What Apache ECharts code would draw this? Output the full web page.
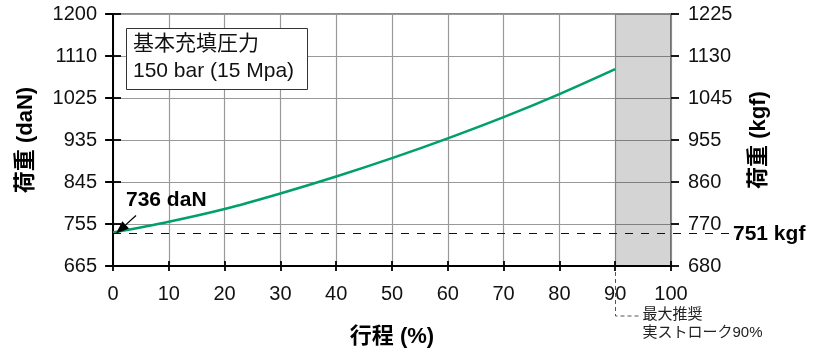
<!DOCTYPE html>
<html>
<head>
<meta charset="utf-8">
<script src="https://cdn.jsdelivr.net/npm/echarts@6/dist/echarts.min.js"></script>
<style>
  html, body { margin: 0; padding: 0; background: #fff; }
  #chart { width: 823px; height: 353px; }
</style>
</head>
<body>
<div id="chart"></div>
<script>
// Stroke (%) vs. thrust force (daN)
const STROKE = [0, 10, 20, 30, 40, 50, 60, 70, 80, 90];
const FORCE_DAN = [736, 759, 786, 819, 855, 894, 936, 981, 1030, 1083];

// Axis ranges and tick labels
const X_RANGE = [0, 100];
const LEFT_RANGE = [665, 1200];
const RIGHT_RANGE = [680, 1225];
const LEFT_TICK_LABELS = ['665', '755', '845', '935', '1025', '1110', '1200'];
const RIGHT_TICK_LABELS = ['680', '770', '860', '955', '1045', '1130', '1225'];

// Reference values
const INITIAL_KGF = 751;
const LIMIT_STROKE = 90;

const FONT = "'Liberation Sans', 'Noto Sans CJK JP', sans-serif";

// Evenly spaced tick positions across each axis range
function evenTicks(range, n) {
  const step = (range[1] - range[0]) / (n - 1);
  return Array.from({ length: n }, (_, i) => range[0] + i * step);
}
const LEFT_TICKS = evenTicks(LEFT_RANGE, LEFT_TICK_LABELS.length);
const RIGHT_TICKS = evenTicks(RIGHT_RANGE, RIGHT_TICK_LABELS.length);

function labelFor(range, labels) {
  const step = (range[1] - range[0]) / (labels.length - 1);
  return v => labels[Math.round((v - range[0]) / step)] || '';
}

const chart = echarts.init(document.getElementById('chart'), null, { renderer: 'canvas' });

function tick(inside, length, values) {
  const t = { show: true, inside: inside, length: length, lineStyle: { color: '#000', width: 1.8 } };
  if (values) t.customValues = values;
  return t;
}

const option = {
  animation: false,
  textStyle: { fontFamily: FONT },
  grid: {
    left: 113, right: 152, top: 14, bottom: 86,
    show: true, borderColor: '#8a8a8a', borderWidth: 2, backgroundColor: 'transparent'
  },
  xAxis: [
    {
      type: 'value', min: X_RANGE[0], max: X_RANGE[1], interval: 10,
      position: 'bottom',
      axisLine: { show: true, onZero: false, lineStyle: { color: '#000', width: 2 } },
      axisTick: tick(false, 5),
      axisLabel: { fontSize: 20, color: '#111', margin: 18, fontFamily: FONT },
      splitLine: { show: true, lineStyle: { color: '#999', width: 1.2 } },
      name: '行程 (%)', nameLocation: 'middle', nameGap: 60,
      nameTextStyle: { fontSize: 22, fontWeight: 'bold', color: '#000', fontFamily: FONT }
    },
    {
      type: 'value', min: X_RANGE[0], max: X_RANGE[1], interval: 10,
      position: 'bottom',
      axisLine: { show: false },
      axisTick: tick(true, 5),
      axisLabel: { show: false },
      splitLine: { show: false }
    }
  ],
  yAxis: [
    {
      type: 'value', min: LEFT_RANGE[0], max: LEFT_RANGE[1], position: 'left',
      axisLine: { show: true, onZero: false, lineStyle: { color: '#000', width: 2 } },
      axisTick: tick(false, 7, LEFT_TICKS),
      axisLabel: {
        customValues: LEFT_TICKS, fontSize: 20, color: '#111', margin: 16, fontFamily: FONT,
        formatter: labelFor(LEFT_RANGE, LEFT_TICK_LABELS)
      },
      splitLine: { show: true, lineStyle: { color: '#999', width: 1.2 } },
      name: '荷重 (daN)', nameLocation: 'middle', nameGap: 76, nameRotate: 90,
      nameTextStyle: { fontSize: 22, fontWeight: 'bold', color: '#000', fontFamily: FONT }
    },
    {
      type: 'value', min: RIGHT_RANGE[0], max: RIGHT_RANGE[1], position: 'right',
      axisLine: { show: true, onZero: false, lineStyle: { color: '#8a8a8a', width: 2 } },
      axisTick: tick(false, 8, RIGHT_TICKS),
      axisLabel: {
        customValues: RIGHT_TICKS, fontSize: 20, color: '#111', margin: 17, fontFamily: FONT,
        formatter: labelFor(RIGHT_RANGE, RIGHT_TICK_LABELS)
      },
      splitLine: { show: false },
      name: '荷重 (kgf)', nameLocation: 'middle', nameGap: 77, nameRotate: 90,
      nameTextStyle: { fontSize: 22, fontWeight: 'bold', color: '#000', fontFamily: FONT }
    },
    {
      type: 'value', min: LEFT_RANGE[0], max: LEFT_RANGE[1], position: 'left',
      axisLine: { show: false },
      axisTick: tick(true, 8, LEFT_TICKS),
      axisLabel: { show: false, customValues: LEFT_TICKS },
      splitLine: { show: false }
    },
    {
      type: 'value', min: RIGHT_RANGE[0], max: RIGHT_RANGE[1], position: 'right',
      axisLine: { show: false },
      axisTick: tick(true, 8, RIGHT_TICKS),
      axisLabel: { show: false, customValues: RIGHT_TICKS },
      splitLine: { show: false }
    }
  ],
  series: [
    {
      name: '荷重',
      type: 'line',
      xAxisIndex: 0,
      yAxisIndex: 0,
      data: STROKE.map((s, i) => [s, FORCE_DAN[i]]),
      smooth: 0.3,
      showSymbol: false,
      lineStyle: { color: '#00a068', width: 2.6 },
      markArea: {
        silent: true,
        itemStyle: { color: 'rgba(0,0,0,0.17)' },
        data: [[{ xAxis: LIMIT_STROKE }, { xAxis: X_RANGE[1] }]]
      }
    }
  ]
};

chart.setOption(option);

// Annotations placed from the axes' own scales
const p0 = chart.convertToPixel({ xAxisIndex: 0, yAxisIndex: 0 }, [STROKE[0], FORCE_DAN[0]]);
const xLeft = chart.convertToPixel({ xAxisIndex: 0 }, X_RANGE[0]);
const xRight = chart.convertToPixel({ xAxisIndex: 0 }, X_RANGE[1]);
const xLimit = Math.round(chart.convertToPixel({ xAxisIndex: 0 }, LIMIT_STROKE)) + 0.5;
const yBottom = chart.convertToPixel({ yAxisIndex: 0 }, LEFT_RANGE[0]);
const yKgf = Math.round(chart.convertToPixel({ yAxisIndex: 1 }, INITIAL_KGF)) + 0.5;

// Arrow pointing to the starting force
const tip = [p0[0] + 3, p0[1] + 1];
const tail = [tip[0] + 20, tip[1] - 18];
const ang = Math.atan2(tip[1] - tail[1], tip[0] - tail[0]);
const headLen = 13, headHalf = 5;
const base = [tip[0] - headLen * Math.cos(ang), tip[1] - headLen * Math.sin(ang)];
const nx = -Math.sin(ang), ny = Math.cos(ang);

chart.setOption({
  graphic: [
    // pressure box
    {
      type: 'rect', left: 126, top: 28, z: 50,
      shape: { width: 181, height: 61 },
      style: { fill: '#fff', stroke: '#333', lineWidth: 1 }
    },
    {
      type: 'text', left: 133, top: 31, z: 51,
      style: {
        text: '基本充填圧力\n150 bar (15 Mpa)',
        font: `21px ${FONT}`, lineHeight: 27, fill: '#111'
      }
    },
    // starting force label + arrow
    {
      type: 'text', z: 51,
      x: p0[0] + 13, y: p0[1] - 32,
      style: {
        text: `${FORCE_DAN[0]} daN`, font: `bold 21px ${FONT}`, fill: '#000',
        verticalAlign: 'middle', align: 'left'
      }
    },
    {
      type: 'line', z: 51,
      shape: { x1: tail[0], y1: tail[1], x2: base[0], y2: base[1] },
      style: { stroke: '#000', lineWidth: 1.3 }
    },
    {
      type: 'polygon', z: 51,
      shape: {
        points: [
          tip,
          [base[0] + nx * headHalf, base[1] + ny * headHalf],
          [base[0] - nx * headHalf, base[1] - ny * headHalf]
        ]
      },
      style: { fill: '#000' }
    },
    // initial force in kgf, dashed reference line
    {
      type: 'line', z: 4,
      shape: { x1: xLeft, y1: yKgf, x2: xRight + 59, y2: yKgf },
      style: { stroke: '#111', lineWidth: 1, lineDash: [8, 8] }
    },
    {
      type: 'text', z: 51,
      x: xRight + 62, y: yKgf + 1,
      style: {
        text: `${INITIAL_KGF} kgf`, font: `bold 21px ${FONT}`, fill: '#000',
        verticalAlign: 'middle', align: 'left'
      }
    },
    // recommended stroke limit note
    {
      type: 'polyline', z: 51,
      shape: { points: [[xLimit, yBottom + 6], [xLimit, yBottom + 50], [xLimit + 25, yBottom + 50]] },
      style: { stroke: '#555', lineWidth: 1, lineDash: [4, 3], fill: null }
    },
    {
      type: 'text', z: 51,
      x: xLimit + 27, y: yBottom + 40,
      style: {
        text: '最大推奨\n実ストローク' + LIMIT_STROKE + '%',
        font: `15px ${FONT}`, lineHeight: 18, fill: '#222'
      }
    }
  ]
});
</script>
</body>
</html>
